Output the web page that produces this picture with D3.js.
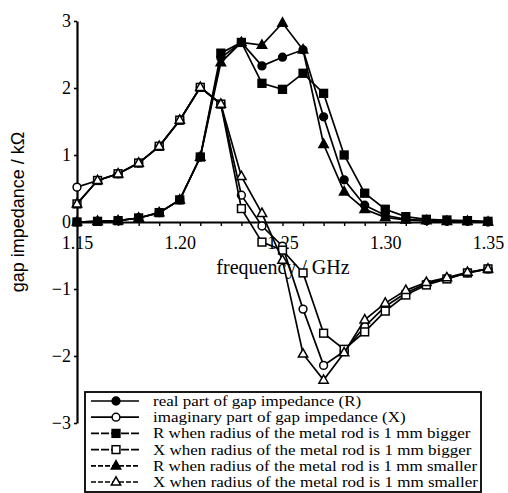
<!DOCTYPE html>
<html>
<head>
<meta charset="utf-8">
<script src="https://cdn.jsdelivr.net/npm/d3@7"></script>
<style>
  body { margin: 0; background: #fff; }
  svg { display: block; }
</style>
</head>
<body>
<div id="container"></div>
<script>
let w = 508;
let h = 493;

// data
let freqs = [1.15, 1.16, 1.17, 1.18, 1.19, 1.20, 1.21, 1.22, 1.23, 1.24, 1.25,
             1.26, 1.27, 1.28, 1.29, 1.30, 1.31, 1.32, 1.33, 1.34, 1.35];
let realR  = [0, 0.01, 0.02, 0.06, 0.14, 0.33, 0.97, 2.45, 2.68, 2.33, 2.46,
              2.57, 1.57, 0.63, 0.25, 0.10, 0.04, 0.02, 0.01, 0.01, 0];
let imagX  = [0.52, 0.62, 0.72, 0.88, 1.13, 1.52, 2.01, 1.76, 0.40, -0.06, -0.36,
              -1.30, -2.14, -1.93, -1.56, -1.26, -1.06, -0.92, -0.84, -0.76, -0.70];
let bigR   = [0, 0.01, 0.02, 0.06, 0.14, 0.33, 0.97, 2.52, 2.68, 2.07, 1.98,
              2.22, 1.92, 1.00, 0.43, 0.19, 0.08, 0.04, 0.03, 0.02, 0.01];
let bigX   = [0.27, 0.62, 0.72, 0.88, 1.13, 1.52, 2.01, 1.76, 0.20, -0.30, -0.42,
              -0.76, -1.66, -1.90, -1.64, -1.33, -1.09, -0.94, -0.85, -0.76, -0.70];
let smallR = [0, 0.01, 0.02, 0.06, 0.14, 0.33, 0.97, 2.38, 2.68, 2.64, 2.97,
              2.57, 1.16, 0.45, 0.19, 0.07, 0.03, 0.02, 0.01, 0.01, 0];
let smallX = [0.27, 0.62, 0.72, 0.88, 1.13, 1.52, 2.01, 1.76, 0.68, 0.13, -0.57,
              -1.97, -2.36, -1.95, -1.46, -1.21, -1.02, -0.90, -0.83, -0.75, -0.70];

let xTickValues = [1.15, 1.20, 1.25, 1.30, 1.35];
let xTickLabels = ["1.15", "1.20", "1.25", "1.30", "1.35"];
let yTickValues = [3, 2, 1, 0, -1, -2, -3];
let yTickLabels = ["3", "2", "1", "0", "\u22121", "\u22122", "\u22123"];

let legendLabels = [
  "real part of gap impedance (R)",
  "imaginary part of gap impedance (X)",
  "R when radius of the metal rod is 1 mm bigger",
  "X when radius of the metal rod is 1 mm bigger",
  "R when radius of the metal rod is 1 mm smaller",
  "X when radius of the metal rod is 1 mm smaller"
];

let series = [
  {values: realR,  shape: "circle",   filled: true,  dash: null},
  {values: imagX,  shape: "circle",   filled: false, dash: null},
  {values: bigR,   shape: "square",   filled: true,  dash: "8,2"},
  {values: bigX,   shape: "square",   filled: false, dash: "8,2"},
  {values: smallR, shape: "triangle", filled: true,  dash: "5,2"},
  {values: smallX, shape: "triangle", filled: false, dash: "5,2"}
];

let viz = d3.select("#container")
  .append("svg")
    .attr("width", w)
    .attr("height", h)
    .style("background-color", "white");

let serif = "'Liberation Serif', 'Times New Roman', serif";
let sans = "'Liberation Sans', Arial, sans-serif";

// scales
let xScale = d3.scaleLinear().domain([1.15, 1.35]).range([77, 488]);
let yScale = d3.scaleLinear().domain([-3, 3]).range([423, 21]);

////////// x axis (at y = 0), minor ticks every 0.01
let xAxisGroup = viz.append("g").attr("class", "xaxis")
  .attr("transform", "translate(0," + yScale(0) + ")");
xAxisGroup.call(d3.axisBottom(xScale).tickValues(freqs).tickSize(4).tickSizeOuter(0).tickFormat(""));
xAxisGroup.select(".domain").attr("stroke-width", 1.8);
xAxisGroup.selectAll(".tick line").attr("stroke-width", 1.4);

let xLabelGroup = viz.append("g").attr("class", "xlabels")
  .attr("transform", "translate(0," + yScale(0) + ")");
xLabelGroup.call(d3.axisBottom(xScale).tickValues(xTickValues).tickSize(0)
  .tickFormat(function(d, i) { return xTickLabels[i]; }));
xLabelGroup.select(".domain").remove();
xLabelGroup.selectAll("text")
  .attr("dy", 0).attr("y", 27)
  .style("font-family", serif).style("font-size", "18px").attr("fill", "#000");

////////// y axis
let yAxisGroup = viz.append("g").attr("class", "yaxis")
  .attr("transform", "translate(" + xScale(1.15) + ",0)");
yAxisGroup.call(d3.axisLeft(yScale).tickValues(yTickValues).tickSize(3).tickSizeOuter(0)
  .tickFormat(function(d, i) { return yTickLabels[i]; }));
yAxisGroup.select(".domain").attr("stroke-width", 2.2);
yAxisGroup.selectAll(".tick line").attr("stroke-width", 1.6);
yAxisGroup.selectAll("text")
  .attr("x", -6)
  .style("font-family", serif).style("font-size", "18px").attr("fill", "#000");

////////// axis titles
viz.append("text")
  .attr("x", 283).attr("y", 274)
  .attr("text-anchor", "middle")
  .style("font-family", serif).style("font-size", "20px")
  .text("frequency / GHz");

viz.append("text")
  .attr("transform", "translate(24," + 212 + ") rotate(-90)")
  .attr("text-anchor", "middle")
  .style("font-family", sans).style("font-size", "18px")
  .text("gap impedance / k\u03a9");

////////// markers
function drawMarker(g, s, cx, cy) {
  let fill = s.filled ? "#000" : "#fff";
  if (s.shape == "circle") {
    g.append("circle").attr("cx", cx).attr("cy", cy).attr("r", 3.9)
      .attr("fill", fill).attr("stroke", "#000").attr("stroke-width", 1.5);
  } else if (s.shape == "square") {
    g.append("rect").attr("x", cx - 3.9).attr("y", cy - 3.9).attr("width", 7.8).attr("height", 7.8)
      .attr("fill", fill).attr("stroke", "#000").attr("stroke-width", 1.5);
  } else {
    let r = 5.2;
    let pts = [[cx, cy - r], [cx - r * 0.9, cy + r * 0.6], [cx + r * 0.9, cy + r * 0.6]];
    g.append("polygon").attr("points", pts.map(function(p) { return p.join(","); }).join(" "))
      .attr("fill", fill).attr("stroke", "#000").attr("stroke-width", 1.5);
  }
}

let line = d3.line()
  .x(function(d) { return xScale(d[0]); })
  .y(function(d) { return yScale(d[1]); });

let plot = viz.append("g").attr("class", "plot");
series.forEach(function(s) {
  let pts = freqs.map(function(f, i) { return [f, s.values[i]]; });
  let g = plot.append("g").attr("class", "series");
  g.append("path").attr("d", line(pts))
    .attr("fill", "none").attr("stroke", "#000").attr("stroke-width", 1.7);
  pts.forEach(function(p) { drawMarker(g, s, xScale(p[0]), yScale(p[1])); });
});

////////// legend
let legend = viz.append("g").attr("class", "legend");
legend.append("rect")
  .attr("x", 85).attr("y", 392).attr("width", 396).attr("height", 100)
  .attr("fill", "#fff").attr("stroke", "#000").attr("stroke-width", 1.8);

let legendTexts = [];
legendLabels.forEach(function(label, i) {
  let y = 401 + i * 16.2;
  let row = legend.append("g");
  row.append("line").attr("x1", 91).attr("x2", 139).attr("y1", y).attr("y2", y)
    .attr("stroke", "#000").attr("stroke-width", 1.7)
    .attr("stroke-dasharray", series[i].dash);
  drawMarker(row, series[i], 116, y);
  let t = row.append("text").attr("x", 153).attr("y", y + 5)
    .style("font-family", serif).style("font-size", "14px")
    .text(label);
  legendTexts.push(t);
});
// the scanned font is wider: stretch so the longest row ends near the box edge
let longest = d3.max(legendTexts, function(t) { return t.node().getComputedTextLength(); });
let stretch = (478 - 153) / longest;
legendTexts.forEach(function(t) {
  t.attr("textLength", t.node().getComputedTextLength() * stretch)
   .attr("lengthAdjust", "spacingAndGlyphs");
});
</script>
</body>
</html>
